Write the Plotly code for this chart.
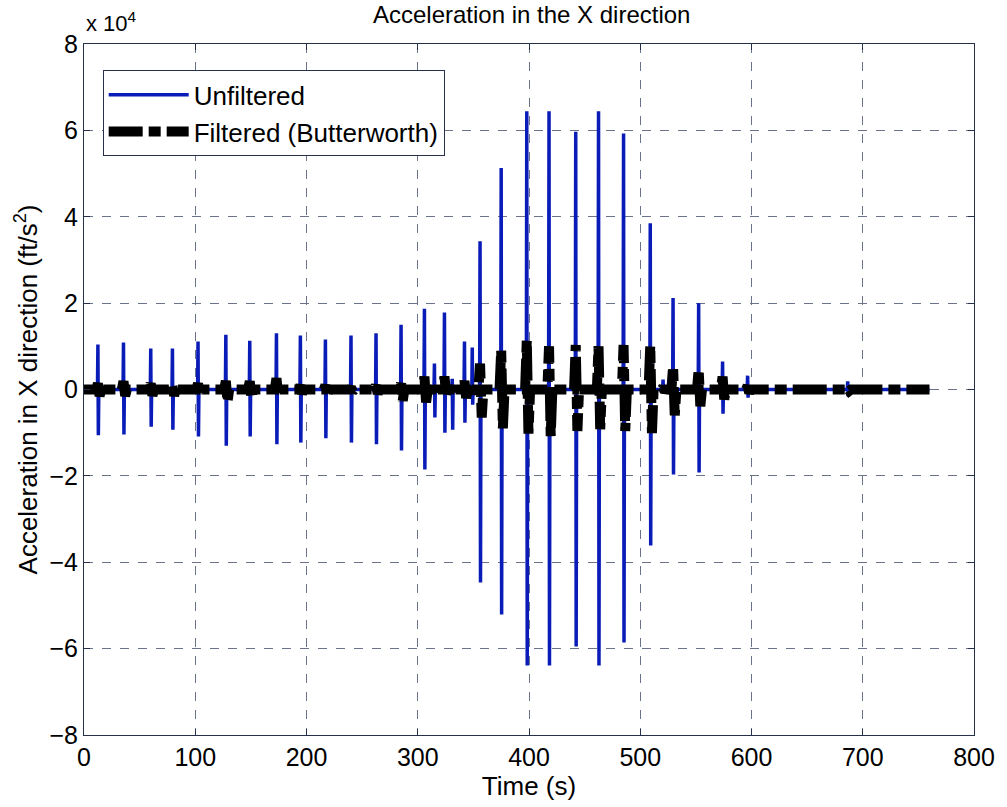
import plotly.graph_objects as go

# Event times (s) where the accelerometer records impacts
spike_time = [12.5, 35.5, 60, 79.5, 102.5, 127.5, 149, 173, 194.5, 217, 240, 262.5,
              285, 306, 315, 324, 331, 342, 349, 356, 375, 398, 418, 442, 462.5,
              485, 509, 520.5, 529.5, 552.5, 574, 596.5, 686.5]

# Raw signal peaks at each event (ft/s^2)
raw_peak_pos = [10400, 10900, 9500, 9500, 11100, 12700, 11300, 13000, 12500, 11600, 12500, 13000,
                15000, 18700, 6000, 17800, 2500, 11100, 9700, 34300, 51300, 64400, 64400, 59700, 64400,
                59300, 38500, 2300, 21200, 20000, 6500, 3200, 1900]
raw_peak_neg = [-10600, -10400, -8600, -9300, -10900, -13000, -10900, -12700, -12300, -11300, -12300, -12700,
                -14100, -18500, -6500, -10000, -9300, -7700, -3500, -44700, -52100, -63900, -63900, -59500, -63900,
                -58600, -36100, -1000, -19700, -19200, -5600, -1900, -1600]

# Butterworth-filtered response at each event (ft/s^2)
filt_peak_pos = [1400, 1900, 1400, 800, 1400, 2000, 1900, 2600, 1000, 1000, 500, 1000,
                 1400, 3000, 500, 3000, 800, 2000, 1000, 6000, 9000, 11300, 10000, 10300, 10000,
                 10300, 10100, 500, 5300, 4600, 3000, 800, 300]
filt_peak_neg = [-1500, -1500, -1400, -1400, -1500, -2800, -1900, -1400, -1000, -1200, -500, -1000,
                 -2600, -3000, -1000, -1000, -800, -2000, -1000, -6500, -9000, -10200, -10800, -9600, -9200,
                 -9600, -10100, -500, -6000, -3900, -2300, -800, -300]

t_start, t_end = 0.0, 760.0
SCALE = 1e4  # axis shows values in units of 10^4


def build_trace(times, pos, neg, half):
    xs, ys = [t_start], [0.0]
    for t, p, n in zip(times, pos, neg):
        xs += [t - half, t, t + half, t + 2 * half]
        ys += [0.0, p / SCALE, n / SCALE, 0.0]
    xs.append(t_end)
    ys.append(0.0)
    return xs, ys


raw_x, raw_y = build_trace(spike_time, raw_peak_pos, raw_peak_neg, 0.4)
flt_x, flt_y = build_trace(spike_time, filt_peak_pos, filt_peak_neg, 1.5)

FONT = "Liberation Sans, Arial, Helvetica, sans-serif"
FRAME = "#26304a"
GRID = "#6a7389"

fig = go.Figure()
fig.add_trace(go.Scatter(
    x=raw_x, y=raw_y, mode="lines", name="Unfiltered",
    line=dict(color="#0a1cb8", width=3.5),
))
fig.add_trace(go.Scatter(
    x=flt_x, y=flt_y, mode="lines", name="Filtered (Butterworth)",
    line=dict(color="black", width=10, dash="34px,6px,12px,6px"),
))

axis_common = dict(
    showline=True, linecolor=FRAME, linewidth=1, mirror="allticks",
    ticks="inside", ticklen=6, tickcolor=FRAME,
    showgrid=True, gridcolor=GRID, gridwidth=1, griddash="dash",
    zeroline=False,
    tickfont=dict(family=FONT, size=25, color="black"),
)

fig.update_layout(
    width=1007, height=807,
    margin=dict(l=84, r=27, t=44, b=72),
    paper_bgcolor="white", plot_bgcolor="white",
    font=dict(family=FONT, color="black"),
    title=dict(text="Acceleration in the X direction", x=0.528, xanchor="center",
               y=0.982, yanchor="middle", font=dict(family=FONT, size=24)),
    xaxis=dict(range=[0, 800], tickvals=list(range(0, 801, 100)),
               title=dict(text="Time (s)", font=dict(family=FONT, size=26), standoff=6),
               **axis_common),
    yaxis=dict(range=[-8, 8], tickvals=list(range(-8, 9, 2)),
               title=dict(text="Acceleration in X direction (ft/s<sup>2</sup>)",
                          font=dict(family=FONT, size=26), standoff=4),
               **axis_common),
    legend=dict(x=0.021, y=0.962, xanchor="left", yanchor="top",
                bgcolor="white", bordercolor=FRAME, borderwidth=1,
                font=dict(family=FONT, size=26), itemwidth=80,
                tracegroupgap=4),
    showlegend=True,
)

fig.add_annotation(text="x 10<sup>4</sup>", xref="paper", yref="paper",
                   x=0.0, y=1.0, xanchor="left", yanchor="bottom", yshift=6,
                   showarrow=False, font=dict(family=FONT, size=22, color="black"))

fig.write_html("out.html")
